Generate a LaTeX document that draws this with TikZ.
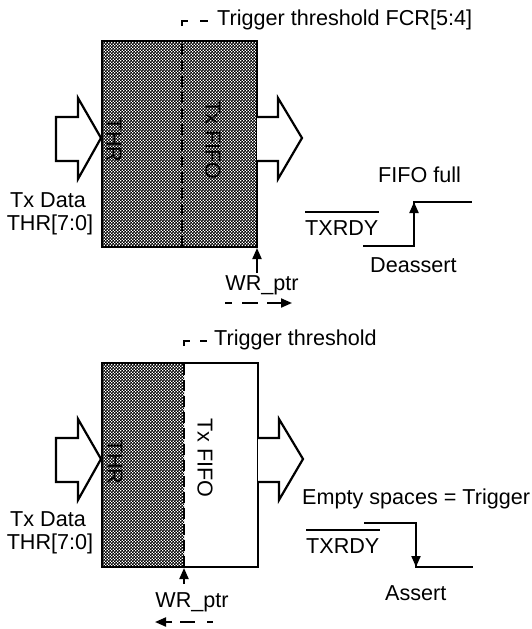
\documentclass[tikz,border=0pt]{standalone}
\usepackage{fontspec}
\setmainfont{Liberation Sans}
\usetikzlibrary{patterns,arrows.meta}
\pgfdeclarepatternformonly{finecheck}{\pgfpointorigin}{\pgfpoint{3.4pt}{3.4pt}}{\pgfpoint{3.4pt}{3.4pt}}{%
  \pgfpathrectangle{\pgfpointorigin}{\pgfpoint{1.95pt}{1.95pt}}%
  \pgfpathrectangle{\pgfpoint{1.7pt}{1.7pt}}{\pgfpoint{1.95pt}{1.95pt}}%
  \pgfusepath{fill}}
\begin{document}
\begin{tikzpicture}[x=1pt,y=-1pt,
  font=\fontsize{21.6}{25}\selectfont,
  txt/.style={inner sep=0pt, anchor=base west},
  ctxt/.style={inner sep=0pt, anchor=base},
  vtxt/.style={inner sep=0pt, rotate=-90},
  boxline/.style={line width=2.6pt},
  fatarrow/.style={line width=2.2pt, fill=white, line join=miter},
  sig/.style={line width=2pt},
  thr/.style={line width=2pt, dash pattern=on 11pt off 5pt},
  tip/.style={-{Triangle[length=11pt,width=9pt]}},
  ptr/.style={line width=2pt}]
\useasboundingbox (0,0) rectangle (531,629);
\fill[white] (0,0) rectangle (531,629);

% ================= TOP =================
\fill[pattern=finecheck] (102,41) rectangle (257,247);
\draw[boxline] (102,41) rectangle (257,247);
\draw[thr] (182,247) -- (182,41);
\draw[line width=2pt] (182,26) -- (182,21) -- (188,21);
\draw[line width=2pt] (200,21) -- (208,21);
\node[txt] (trig1) at (217,25) {Trigger threshold FCR[5:4]};

\node[vtxt] (thr1) at (114,140) {THR};
\node[vtxt] (fifo1) at (213,140) {Tx FIFO};

\draw[fatarrow] (56,117) -- (78,117) -- (78,98) -- (101,138) -- (78,179) -- (78,161) -- (56,161) -- cycle;
\draw[fatarrow] (257,117) -- (278,117) -- (278,98) -- (302,138) -- (278,179) -- (278,161) -- (257,161);

\node[ctxt] (txd1) at (48,207) {Tx Data};
\node[ctxt] (thrr1) at (50,230) {THR[7:0]};

\coordinate (wa1) at (257,273);
\coordinate (wb1) at (257,248);
\draw[ptr,tip] (wa1) -- (wb1);
\node[ctxt] (wr1) at (262,290) {WR\_ptr};
\draw[ptr] (225,303) -- (232,303);
\draw[ptr] (242,303) -- (258,303);
\draw[ptr,tip] (267,303) -- (292,303);

\node[txt] (tx1) at (305,235) {TXRDY};
\draw[line width=1.5pt] ([yshift=8pt]tx1.north west) -- ([yshift=8pt]tx1.north east);
\coordinate (s1a) at (363,246);
\coordinate (s1b) at (414,246);
\coordinate (s1c) at (414,202);
\coordinate (s1d) at (472,202);
\draw[sig] (s1a) -- (s1b) -- (s1c) -- (s1d);
\draw[sig,tip] (s1b) -- (s1c);
\node[txt] (full) at (378,182) {FIFO full};
\node[txt] (deas) at (370,272) {Deassert};

% ================= BOTTOM =================
\fill[pattern=finecheck] (102,363) rectangle (184,567);
\draw[boxline] (102,363) rectangle (258,567);
\draw[thr] (184,567) -- (184,363);
\draw[line width=2pt] (184,346) -- (184,341) -- (190,341);
\draw[line width=2pt] (200,341) -- (207,341);
\node[txt] (trig2) at (214,345) {Trigger threshold};

\node[vtxt] (thr2) at (115,462) {THR};
\node[vtxt] (fifo2) at (205,458) {Tx FIFO};

\draw[fatarrow] (56,438) -- (78,438) -- (78,419) -- (101,459) -- (78,500) -- (78,482) -- (56,482) -- cycle;
\draw[fatarrow] (258,438) -- (279,438) -- (279,419) -- (303,459) -- (279,500) -- (279,482) -- (258,482);

\node[ctxt] (txd2) at (48,526) {Tx Data};
\node[ctxt] (thrr2) at (50,549) {THR[7:0]};

\coordinate (wa2) at (184,584);
\coordinate (wb2) at (184,568);
\draw[ptr,tip] (wa2) -- (wb2);
\node[ctxt] (wr2) at (192,607) {WR\_ptr};
\draw[ptr,tip] (172,622) -- (155,622);
\draw[ptr] (180,622) -- (195,622);
\draw[ptr] (207,622) -- (213,622);

\node[txt] (empty) at (302,504) {Empty spaces = Trigger};
\node[txt] (tx2) at (306,553) {TXRDY};
\draw[line width=1.5pt] ([yshift=8pt]tx2.north west) -- ([yshift=8pt]tx2.north east);
\coordinate (s2a) at (364,523);
\coordinate (s2b) at (416,523);
\coordinate (s2c) at (416,567);
\coordinate (s2d) at (473,567);
\draw[sig] (s2a) -- (s2b) -- (s2c) -- (s2d);
\draw[sig,tip] (s2b) -- (s2c);
\node[txt] (ass) at (385,600) {Assert};
\end{tikzpicture}
\end{document}
